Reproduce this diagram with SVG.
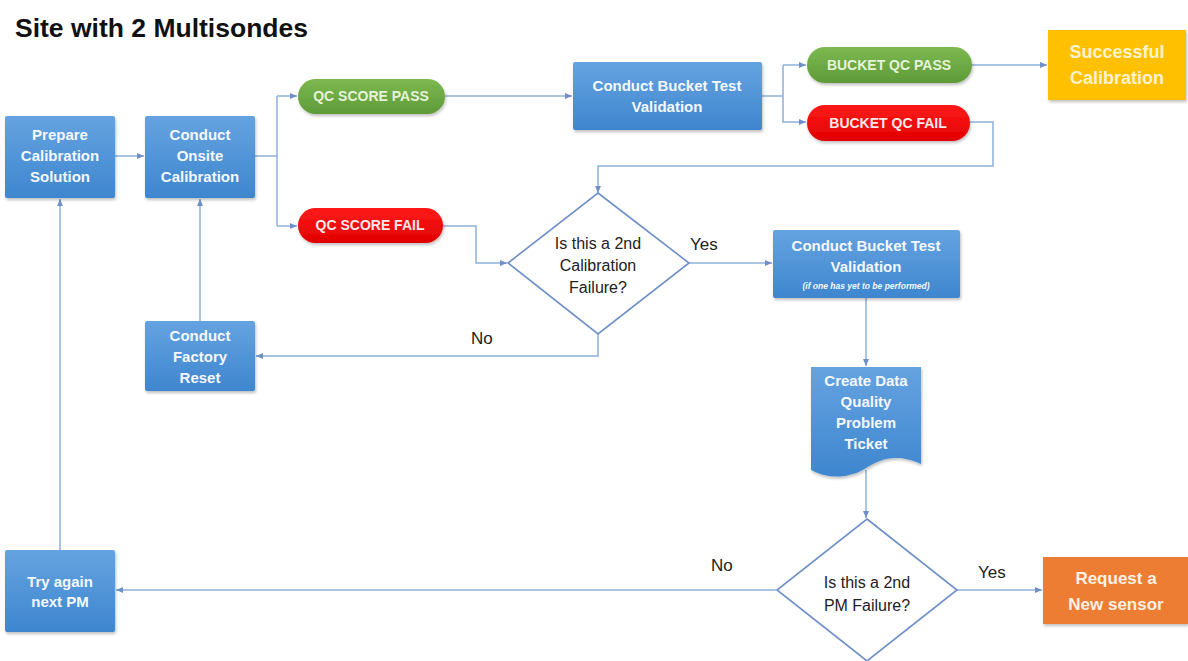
<svg xmlns="http://www.w3.org/2000/svg" width="1188" height="661" viewBox="0 0 1188 661">
<defs>
<style>
.box{fill:url(#gBlue);filter:url(#sh)}
.bt{font-family:"Liberation Sans",Arial,sans-serif;font-weight:bold;font-size:15px;fill:#F4F8FF;text-anchor:middle}
.pt{font-family:"Liberation Sans",Arial,sans-serif;font-weight:bold;font-size:14px;text-anchor:middle}
.lbl{font-family:"Liberation Sans",Arial,sans-serif;font-size:17px;fill:#222}
.dt{font-family:"Liberation Sans",Arial,sans-serif;font-size:16px;fill:#222;text-anchor:middle}
.ln{fill:none;stroke:#8FB0DA;stroke-width:1.5}
.dia{fill:#fff;stroke:#6E8FC8;stroke-width:1.6}
</style>
<linearGradient id="gBlue" x1="0" y1="0" x2="0" y2="1"><stop offset="0" stop-color="#65A3E0"/><stop offset="1" stop-color="#3E86CF"/></linearGradient>
<linearGradient id="gGreen" x1="0" y1="0" x2="0" y2="1"><stop offset="0" stop-color="#7DB950"/><stop offset="1" stop-color="#5E9A38"/></linearGradient>
<linearGradient id="gRed" x1="0" y1="0" x2="0" y2="1"><stop offset="0" stop-color="#FF1A1A"/><stop offset="1" stop-color="#E00000"/></linearGradient>
<filter id="sh" x="-10%" y="-10%" width="125%" height="135%"><feDropShadow dx="1" dy="2" stdDeviation="1.5" flood-color="#000" flood-opacity="0.25"/></filter>
<marker id="ah" markerWidth="8" markerHeight="8" refX="7" refY="4" orient="auto" markerUnits="userSpaceOnUse"><path d="M0,1 L7,4 L0,7 Z" fill="#6E8FC8"/></marker>
</defs>
<rect width="1188" height="661" fill="#fff"/>
<text x="15" y="37" font-family="'Liberation Sans',Arial,sans-serif" font-weight="bold" font-size="26.5" fill="#111">Site with 2 Multisondes</text>

<g id="connectors">
<path class="ln" marker-end="url(#ah)" d="M115,156 H144"/>
<path class="ln" d="M255,156 H277"/>
<path class="ln" d="M277,96 V226"/>
<path class="ln" marker-end="url(#ah)" d="M277,96 H297"/>
<path class="ln" marker-end="url(#ah)" d="M277,226 H297"/>
<path class="ln" marker-end="url(#ah)" d="M445,96 H572"/>
<path class="ln" d="M762,96 H783"/>
<path class="ln" marker-end="url(#ah)" d="M783,65 V122 H806"/>
<path class="ln" marker-end="url(#ah)" d="M783,65 H806"/>
<path class="ln" marker-end="url(#ah)" d="M972,65 H1047"/>
<path class="ln" marker-end="url(#ah)" d="M970,122 H993 V166 H598 V193"/>
<path class="ln" marker-end="url(#ah)" d="M443,226 H476 V263 H507"/>
<path class="ln" marker-end="url(#ah)" d="M689,263 H772"/>
<path class="ln" marker-end="url(#ah)" d="M598,334 V356 H256"/>
<path class="ln" marker-end="url(#ah)" d="M200,321 V199"/>
<path class="ln" marker-end="url(#ah)" d="M866,298 V366"/>
<path class="ln" marker-end="url(#ah)" d="M866,470 V518"/>
<path class="ln" marker-end="url(#ah)" d="M957,590 H1042"/>
<path class="ln" marker-end="url(#ah)" d="M776,590 H116"/>
<path class="ln" marker-end="url(#ah)" d="M60,550 V199"/>
</g>

<g id="prepare">
<rect class="box" x="5" y="116" width="110" height="82" rx="2"/>
<text class="bt" x="60" y="140">Prepare</text>
<text class="bt" x="60" y="161">Calibration</text>
<text class="bt" x="60" y="182">Solution</text>
</g>
<g id="onsite">
<rect class="box" x="145" y="116" width="110" height="82" rx="2"/>
<text class="bt" x="200" y="140">Conduct</text>
<text class="bt" x="200" y="161">Onsite</text>
<text class="bt" x="200" y="182">Calibration</text>
</g>
<g id="qcpass">
<rect x="298" y="79" width="147" height="35" rx="17.5" fill="url(#gGreen)" filter="url(#sh)"/>
<text class="pt" x="371" y="101" fill="#E6F2DA">QC SCORE PASS</text>
</g>
<g id="qcfail">
<rect x="298" y="208" width="145" height="35" rx="17.5" fill="url(#gRed)" filter="url(#sh)"/>
<text class="pt" x="370" y="230" fill="#FFE8E8">QC SCORE FAIL</text>
</g>
<g id="bucket1">
<rect class="box" x="573" y="62" width="189" height="68" rx="2"/>
<text class="bt" x="667" y="91">Conduct Bucket Test</text>
<text class="bt" x="667" y="112">Validation</text>
</g>
<g id="bucketpass">
<rect x="807" y="47" width="165" height="36" rx="18" fill="url(#gGreen)" filter="url(#sh)"/>
<text class="pt" x="889" y="70" fill="#E6F2DA">BUCKET QC PASS</text>
</g>
<g id="bucketfail">
<rect x="807" y="105" width="163" height="36" rx="18" fill="url(#gRed)" filter="url(#sh)"/>
<text class="pt" x="888" y="128" fill="#FFE8E8">BUCKET QC FAIL</text>
</g>
<g id="success">
<rect x="1048" y="30" width="138" height="70" fill="#FFC000" filter="url(#sh)"/>
<text x="1117" y="58" font-family="'Liberation Sans',Arial,sans-serif" font-weight="bold" font-size="18" fill="#FFF3CF" text-anchor="middle">Successful</text>
<text x="1117" y="84" font-family="'Liberation Sans',Arial,sans-serif" font-weight="bold" font-size="18" fill="#FFF3CF" text-anchor="middle">Calibration</text>
</g>
<g id="decision1">
<polygon class="dia" points="598,193 689,263 598,334 508,263"/>
<text class="dt" x="598" y="249">Is this a 2nd</text>
<text class="dt" x="598" y="271">Calibration</text>
<text class="dt" x="598" y="293">Failure?</text>
</g>
<text class="lbl" x="690" y="250">Yes</text>
<text class="lbl" x="471" y="344">No</text>
<g id="bucket2">
<rect class="box" x="773" y="230" width="187" height="68" rx="2"/>
<text class="bt" x="866" y="251">Conduct Bucket Test</text>
<text class="bt" x="866" y="272">Validation</text>
<text x="866" y="289" font-family="'Liberation Sans',Arial,sans-serif" font-weight="bold" font-style="italic" font-size="8.5" fill="#F4F8FF" text-anchor="middle">(if one has yet to be performed)</text>
</g>
<g id="factory">
<rect class="box" x="145" y="321" width="110" height="70" rx="2"/>
<text class="bt" x="200" y="341">Conduct</text>
<text class="bt" x="200" y="362">Factory</text>
<text class="bt" x="200" y="383">Reset</text>
</g>
<g id="ticket">
<path d="M811,367 H921 V464 C896,452 878,460 866,468 C850,478 830,480 811,470 Z" fill="url(#gBlue)" filter="url(#sh)"/>
<text class="bt" x="866" y="386">Create Data</text>
<text class="bt" x="866" y="407">Quality</text>
<text class="bt" x="866" y="428">Problem</text>
<text class="bt" x="866" y="449">Ticket</text>
</g>
<g id="decision2">
<polygon class="dia" points="867,519 957,590 867,661 777,590"/>
<text class="dt" x="867" y="588">Is this a 2nd</text>
<text class="dt" x="867" y="611">PM Failure?</text>
</g>
<text class="lbl" x="978" y="578">Yes</text>
<text class="lbl" x="711" y="571">No</text>
<g id="request">
<rect x="1043" y="557" width="145" height="67" fill="#ED7D31" filter="url(#sh)"/>
<text x="1116" y="584" font-family="'Liberation Sans',Arial,sans-serif" font-weight="bold" font-size="17" fill="#FFF1E6" text-anchor="middle">Request a</text>
<text x="1116" y="610" font-family="'Liberation Sans',Arial,sans-serif" font-weight="bold" font-size="17" fill="#FFF1E6" text-anchor="middle">New sensor</text>
</g>
<g id="tryagain">
<rect class="box" x="5" y="550" width="110" height="82" rx="2"/>
<text class="bt" x="60" y="587">Try again</text>
<text class="bt" x="60" y="607">next PM</text>
</g>
</svg>
